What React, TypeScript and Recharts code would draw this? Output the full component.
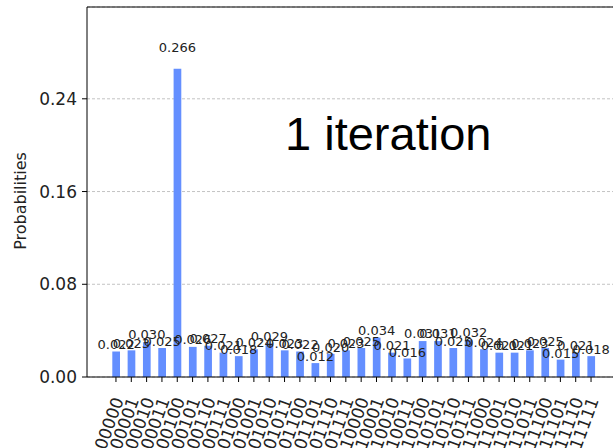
import React from 'react';
import { BarChart, Bar, XAxis, YAxis, CartesianGrid, ReferenceLine, LabelList } from 'recharts';

// 5-qubit measurement outcomes after one Grover iteration
const states = [
  '00000', '00001', '00010', '00011', '00100', '00101', '00110', '00111',
  '01000', '01001', '01010', '01011', '01100', '01101', '01110', '01111',
  '10000', '10001', '10010', '10011', '10100', '10101', '10110', '10111',
  '11000', '11001', '11010', '11011', '11100', '11101', '11110', '11111',
];

const probabilities = [
  0.022, 0.023, 0.030, 0.025, 0.266, 0.026, 0.027, 0.021,
  0.018, 0.024, 0.029, 0.023, 0.022, 0.012, 0.020, 0.023,
  0.025, 0.034, 0.021, 0.016, 0.031, 0.031, 0.025, 0.032,
  0.024, 0.021, 0.021, 0.023, 0.025, 0.015, 0.021, 0.018,
];

const yTicks = [0, 0.08, 0.16, 0.24];
const Y_MAX = 0.3192;

const BAR_COLOR = '#648fff';
const FONT = '"DejaVu Sans", sans-serif';

const data = states.map((s, i) => ({ state: s, p: probabilities[i] }));

const StateTick = (props: any) => {
  const { x, y, payload } = props;
  return (
    <g transform={`translate(${x + 8},${y + 16})`}>
      <text
        textAnchor="end"
        transform="rotate(-70)"
        fontFamily={FONT}
        fontSize={17}
        fill="#222"
      >
        {payload.value}
      </text>
    </g>
  );
};

// value printed just above each bar, at 1.05x its height
const ValueLabel = (props: any) => {
  const { x, y, width, height, value } = props;
  return (
    <text
      x={x + width / 2}
      y={y - 0.05 * height - 1}
      textAnchor="middle"
      fontFamily={FONT}
      fontSize={13}
      fill="#222"
    >
      {Number(value).toFixed(3)}
    </text>
  );
};

export default function App() {
  return (
    <div style={{ position: 'absolute', left: 0, top: 0, width: 613, height: 448, overflow: 'hidden', background: '#fff' }}>
      <BarChart
        width={625}
        height={448}
        data={data}
        margin={{ top: 7, right: 5, bottom: 0, left: 0 }}
      >
        <CartesianGrid vertical={false} stroke="#c4c4c4" strokeDasharray="3 2" />
        <XAxis
          dataKey="state"
          interval={0}
          height={71}
          padding={{ left: 21.3, right: 21.3 }}
          axisLine={{ stroke: '#000' }}
          tickLine={{ stroke: '#000' }}
          tickSize={5}
          tick={<StateTick />}
        />
        <YAxis
          width={87}
          domain={[0, Y_MAX]}
          ticks={yTicks}
          tickFormatter={(v: number) => v.toFixed(2)}
          axisLine={{ stroke: '#000' }}
          tickLine={{ stroke: '#000' }}
          tickSize={5}
          tickMargin={5}
          tick={{ fontFamily: FONT, fontSize: 17, fill: '#222' }}
          label={{
            content: () => (
              <text
                x={0}
                y={0}
                transform="translate(26,201) rotate(-90)"
                textAnchor="middle"
                fontFamily={FONT}
                fontSize={16}
                fill="#222"
              >
                Probabilities
              </text>
            ),
          }}
        />
        <ReferenceLine y={Y_MAX} stroke="#000" ifOverflow="extendDomain" />
        <Bar dataKey="p" fill={BAR_COLOR} barSize={7.7} isAnimationActive={false}>
          <LabelList dataKey="p" content={<ValueLabel />} />
        </Bar>
      </BarChart>
      <svg width={613} height={448} style={{ position: 'absolute', left: 0, top: 0, pointerEvents: 'none' }}>
        <text x={285} y={150} fontFamily='"Liberation Sans", Arial, sans-serif' fontSize={47} fill="#000">
          1 iteration
        </text>
      </svg>
    </div>
  );
}
